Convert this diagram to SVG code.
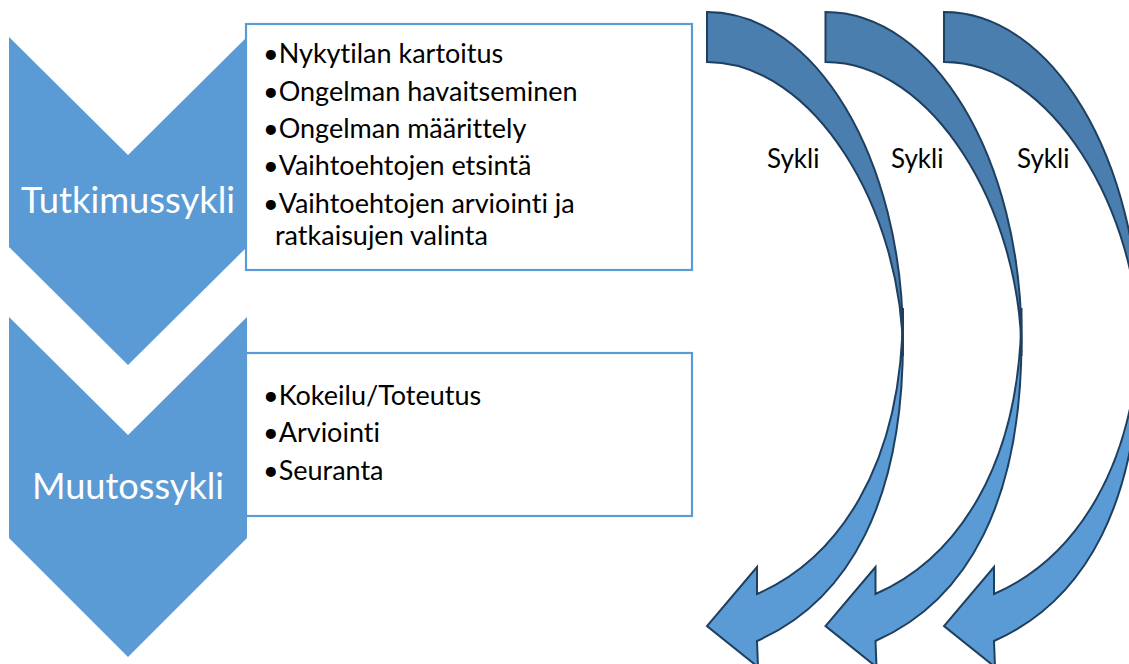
<svg xmlns="http://www.w3.org/2000/svg" width="1129" height="664" viewBox="0 0 1129 664">
  <defs>
    <style>
      text { font-variant-ligatures: none; font-feature-settings: "liga" 0, "clig" 0; }
      .chev { fill: #5b9bd5; }
      .chevtxt { font-family: Lato, "Open Sans", sans-serif; font-size: 37px; fill: #ffffff; text-anchor: middle; }
      .box { fill: #ffffff; stroke: #5b9bd5; stroke-width: 2.2; }
      .item { font-family: Lato, "Open Sans", sans-serif; font-size: 27px; fill: #000000; }
      .back { fill: #4a7eae; stroke: #1f3f5f; stroke-width: 2; stroke-linejoin: miter; }
      .front { fill: #5b9bd5; stroke: #1f3f5f; stroke-width: 2; stroke-linejoin: miter; }
      .sykli { font-family: Lato, "Open Sans", sans-serif; font-size: 26px; fill: #000000; }
    </style>
    <g id="cycleArrow">
      <path class="back" d="M707,12 C815.2,12 903,158.8 903,340 L903,356 C903,210 814,62 707,62 Z"/>
      <path class="front" d="M903,308 C903,470 835,560 757,594 L757,567 L707,626 L758,667 L757,641 C850,600 903,500 903,340 Z"/>
    </g>
  </defs>

  <g id="chevron-tutkimussykli">
    <polygon class="chev" points="9,37 128,155 247,37 247,247 128,365 9,247"/>
    <text class="chevtxt" x="128" y="213" textLength="214" lengthAdjust="spacingAndGlyphs">Tutkimussykli</text>
  </g>

  <g id="chevron-muutossykli">
    <polygon class="chev" points="9,317 128,435 247,317 247,538 128,657 9,538"/>
    <text class="chevtxt" x="128" y="499" textLength="192" lengthAdjust="spacingAndGlyphs">Muutossykli</text>
  </g>

  <g id="box-tutkimus">
    <rect class="box" x="246" y="24" width="446" height="246"/>
    <text class="item" x="263" y="63">•Nykytilan kartoitus</text>
    <text class="item" x="263" y="101">•Ongelman havaitseminen</text>
    <text class="item" x="263" y="138">•Ongelman määrittely</text>
    <text class="item" x="263" y="175">•Vaihtoehtojen etsintä</text>
    <text class="item" x="263" y="213">•Vaihtoehtojen arviointi ja</text>
    <text class="item" x="275" y="245">ratkaisujen valinta</text>
  </g>

  <g id="box-muutos">
    <rect class="box" x="246" y="353" width="446" height="163"/>
    <text class="item" x="263" y="405">•Kokeilu/Toteutus</text>
    <text class="item" x="263" y="442">•Arviointi</text>
    <text class="item" x="263" y="480">•Seuranta</text>
  </g>

  <g id="connectors">
    <g id="cycle-1">
      <use href="#cycleArrow"/>
      <text class="sykli" x="767" y="168">Sykli</text>
    </g>
    <g id="cycle-2">
      <use href="#cycleArrow" transform="translate(118.5,0)"/>
      <text class="sykli" x="891" y="168">Sykli</text>
    </g>
    <g id="cycle-3">
      <use href="#cycleArrow" transform="translate(237,0)"/>
      <text class="sykli" x="1017" y="168">Sykli</text>
    </g>
  </g>
</svg>
